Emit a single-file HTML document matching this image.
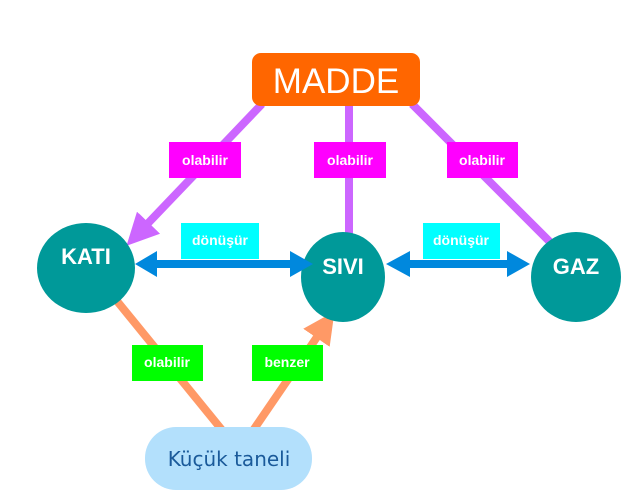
<!DOCTYPE html>
<html><head><meta charset="utf-8"><style>
body{margin:0;background:#fff;width:634px;height:503px;overflow:hidden}
svg{display:block}
.l{font-family:"Liberation Sans",sans-serif;font-weight:bold;font-size:14px;fill:#fff}
</style></head><body>
<svg width="634" height="503" viewBox="0 0 634 503">
<defs>
<marker id="pa" markerWidth="4" markerHeight="4" refX="3" refY="2" orient="auto" markerUnits="strokeWidth"><path d="M0,0 L4,2 L0,4 z" fill="#cc66ff"/></marker>
<marker id="oa" markerWidth="4" markerHeight="4" refX="3" refY="2" orient="auto" markerUnits="strokeWidth"><path d="M0,0 L4,2 L0,4 z" fill="#ff9966"/></marker>
</defs>
<line x1="262" y1="104" x2="132" y2="240" stroke="#cc66ff" stroke-width="8" marker-end="url(#pa)"/>
<line x1="349" y1="104" x2="349" y2="234" stroke="#cc66ff" stroke-width="8"/>
<line x1="412" y1="104" x2="552" y2="244" stroke="#cc66ff" stroke-width="8"/>
<line x1="108" y1="290" x2="222" y2="430" stroke="#ff9966" stroke-width="8"/>
<line x1="252" y1="432" x2="330" y2="318" stroke="#ff9966" stroke-width="8" marker-end="url(#oa)"/>
<ellipse cx="86" cy="268" rx="49" ry="45" fill="#009999"/>
<ellipse cx="343" cy="277" rx="42" ry="45" fill="#009999"/>
<ellipse cx="576" cy="277" rx="45" ry="45" fill="#009999"/>
<rect x="154" y="260" width="138" height="8" fill="#0088dd"/>
<path d="M135,264 L157,251 L157,277 z M313,264 L290,251 L290,277 z" fill="#0088dd"/>
<rect x="408" y="260" width="101" height="8" fill="#0088dd"/>
<path d="M386,264 L410,251 L410,277 z M530,264 L507,251 L507,277 z" fill="#0088dd"/>
<rect x="252" y="53" width="168" height="53" rx="9" fill="#ff6600"/>
<text x="336" y="93" text-anchor="middle" font-family="Liberation Sans,sans-serif" font-size="35" fill="#fff">MADDE</text>
<rect x="169" y="142" width="72" height="36" fill="#ff00ff"/><text class="l" x="205" y="165" text-anchor="middle">olabilir</text>
<rect x="314" y="142" width="72" height="36" fill="#ff00ff"/><text class="l" x="350" y="165" text-anchor="middle">olabilir</text>
<rect x="447" y="142" width="71" height="36" fill="#ff00ff"/><text class="l" x="482" y="165" text-anchor="middle">olabilir</text>
<rect x="181" y="223" width="78" height="36" fill="#00ffff"/><text class="l" x="220" y="245" text-anchor="middle">dönüşür</text>
<rect x="423" y="223" width="77" height="36" fill="#00ffff"/><text class="l" x="461" y="245" text-anchor="middle">dönüşür</text>
<rect x="132" y="345" width="71" height="36" fill="#00ff00"/><text class="l" x="167" y="367" text-anchor="middle">olabilir</text>
<rect x="252" y="345" width="71" height="36" fill="#00ff00"/><text class="l" x="287" y="367" text-anchor="middle">benzer</text>
<text x="86" y="264" text-anchor="middle" font-family="Liberation Sans,sans-serif" font-weight="bold" font-size="22" fill="#fff">KATI</text>
<text x="343" y="274" text-anchor="middle" font-family="Liberation Sans,sans-serif" font-weight="bold" font-size="22" fill="#fff">SIVI</text>
<text x="576" y="274" text-anchor="middle" font-family="Liberation Sans,sans-serif" font-weight="bold" font-size="22" fill="#fff">GAZ</text>
<rect x="145" y="427" width="167" height="63" rx="31" fill="#b3e0fc"/>
<text x="229" y="466" text-anchor="middle" font-family="DejaVu Sans,sans-serif" font-size="20" fill="#1a5a9a">Küçük taneli</text>
</svg>
</body></html>
